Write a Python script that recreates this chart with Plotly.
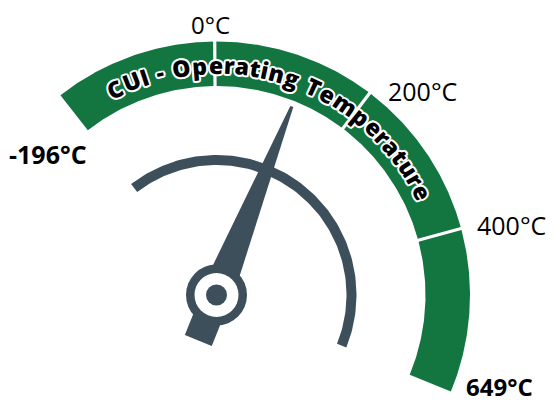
import numpy as np
import plotly.graph_objects as go

# ---- data ----
boundary_temps = [-196, 0, 200, 400, 649]
tick_labels = ["-196°C", "0°C", "200°C", "400°C", "649°C"]
tick_bold = [True, False, False, False, True]
needle_temp = 118
title_text = "CUI - Operating Temperature"

# ---- layout geometry / style ----
W, H = 557, 403
PAGE_OFF = 8  # default body margin of the html page
CX, CY = 216.5, 295.0
R_OUT, R_IN = 253.5, 209.0
DIAL_OUT, DIAL_IN = 140.0, 130.0
START_DEG, STEP_DEG = -38.0, 37.6
GAP = 1.6
GREEN = "#137540"
SLATE = "#3d4f5b"
FONT = "Open Sans"


def temp_to_deg(t):
    b = boundary_temps
    for i in range(len(b) - 1):
        if t <= b[i + 1] or i == len(b) - 2:
            return START_DEG + STEP_DEG * (i + (t - b[i]) / (b[i + 1] - b[i]))


def pt(r, deg):
    a = np.radians(deg)
    return CX + r * np.sin(a), CY - r * np.cos(a)


def off(r):
    return np.degrees(np.arcsin(GAP / r))


fig = go.Figure()

# green scale segments
n_seg = len(boundary_temps) - 1
for i in range(n_seg):
    a0 = temp_to_deg(boundary_temps[i])
    a1 = temp_to_deg(boundary_temps[i + 1])
    s0o = off(R_OUT) if i > 0 else 0
    s0i = off(R_IN) if i > 0 else 0
    s1o = off(R_OUT) if i < n_seg - 1 else 0
    s1i = off(R_IN) if i < n_seg - 1 else 0
    outer = np.linspace(a0 + s0o, a1 - s1o, 80)
    inner = np.linspace(a1 - s1i, a0 + s0i, 80)
    xo, yo = pt(R_OUT, outer)
    xi, yi = pt(R_IN, inner)
    fig.add_trace(go.Scatter(
        x=np.concatenate([xo, xi]), y=np.concatenate([yo, yi]),
        fill="toself", fillcolor=GREEN, mode="lines", line=dict(width=0),
        hoverinfo="skip"))

# inner dial arc
d0 = temp_to_deg(boundary_temps[0]) + 0.4
d1 = temp_to_deg(boundary_temps[-1]) - 0.4
outer = np.linspace(d0, d1, 120)
xo, yo = pt(DIAL_OUT, outer)
xi, yi = pt(DIAL_IN, outer[::-1])
fig.add_trace(go.Scatter(
    x=np.concatenate([xo, xi]), y=np.concatenate([yo, yi]),
    fill="toself", fillcolor=SLATE, mode="lines", line=dict(width=0),
    hoverinfo="skip"))

# needle
th = np.radians(temp_to_deg(needle_temp))
u = np.array([np.sin(th), -np.cos(th)])
nv = np.array([np.cos(th), np.sin(th)])
profile = [(-49, 14.5), (25, 14.5), (203, 1.6)]
left = [np.array([CX, CY]) + d * u + w * nv for d, w in profile]
right = [np.array([CX, CY]) + d * u - w * nv for d, w in profile[::-1]]
poly = np.array(left + right)
fig.add_trace(go.Scatter(
    x=poly[:, 0], y=poly[:, 1], fill="toself", fillcolor=SLATE,
    mode="lines", line=dict(width=0), hoverinfo="skip"))

# hub
for size, col in [(61, SLATE), (44, "white"), (21, SLATE)]:
    fig.add_trace(go.Scatter(
        x=[CX], y=[CY], mode="markers",
        marker=dict(size=size, color=col, line=dict(width=0)),
        hoverinfo="skip"))

# tick labels
label_pos = [
    dict(r=R_IN, xanchor="right", yanchor="top", xshift=0, yshift=-6, size=25),
    dict(r=R_OUT, xanchor="center", yanchor="bottom", xshift=-4, yshift=0, size=24),
    dict(r=R_OUT, xanchor="left", yanchor="middle", xshift=17, yshift=2, size=25),
    dict(r=R_OUT, xanchor="left", yanchor="middle", xshift=15, yshift=4, size=25),
    dict(r=R_OUT, xanchor="left", yanchor="middle", xshift=14, yshift=5, size=24),
]
annotations = []
for t, lab, bold, p in zip(boundary_temps, tick_labels, tick_bold, label_pos):
    x, y = pt(p["r"], temp_to_deg(t))
    annotations.append(dict(
        x=x, y=y, xref="x", yref="y", text=lab, showarrow=False,
        xanchor=p["xanchor"], yanchor=p["yanchor"],
        xshift=p["xshift"], yshift=p["yshift"], borderpad=0,
        font=dict(family=FONT, size=p["size"], color="black",
                  weight=700 if bold else 400)))

# curved title
widths = {"C": .66, "U": .70, "I": .30, " ": .26, "-": .36, "O": .76,
          "p": .62, "e": .58, "r": .42, "a": .58, "t": .40, "i": .29,
          "n": .62, "g": .62, "T": .58, "m": .93, "u": .62}
w = np.array([widths.get(c, .6) for c in title_text])
centers = np.cumsum(w) - w / 2
T0, T1 = -26.2, 63.4
angs = T0 + (centers - centers[0]) / (centers[-1] - centers[0]) * (T1 - T0)
R_TXT = 230.0
shadow = ("-2px 0 0 #fff, 2px 0 0 #fff, 0 -2px 0 #fff, 0 2px 0 #fff, "
          "-1.5px -1.5px 0 #fff, 1.5px -1.5px 0 #fff, "
          "-1.5px 1.5px 0 #fff, 1.5px 1.5px 0 #fff")
for c, a in zip(title_text, angs):
    if c == " ":
        continue
    x, y = pt(R_TXT, a)
    annotations.append(dict(
        x=x, y=y, xref="x", yref="y", text=c, showarrow=False,
        textangle=a, xanchor="center", yanchor="middle",
        font=dict(family=FONT, size=23, color="black", weight=800,
                  shadow=shadow)))

fig.update_layout(
    width=W, height=H, margin=dict(l=0, r=0, t=0, b=0),
    paper_bgcolor="white", plot_bgcolor="white", showlegend=False,
    xaxis=dict(range=[PAGE_OFF, W + PAGE_OFF], visible=False, fixedrange=True),
    yaxis=dict(range=[H + PAGE_OFF, PAGE_OFF], visible=False, fixedrange=True),
    annotations=annotations)

fig.write_html("out.html")
